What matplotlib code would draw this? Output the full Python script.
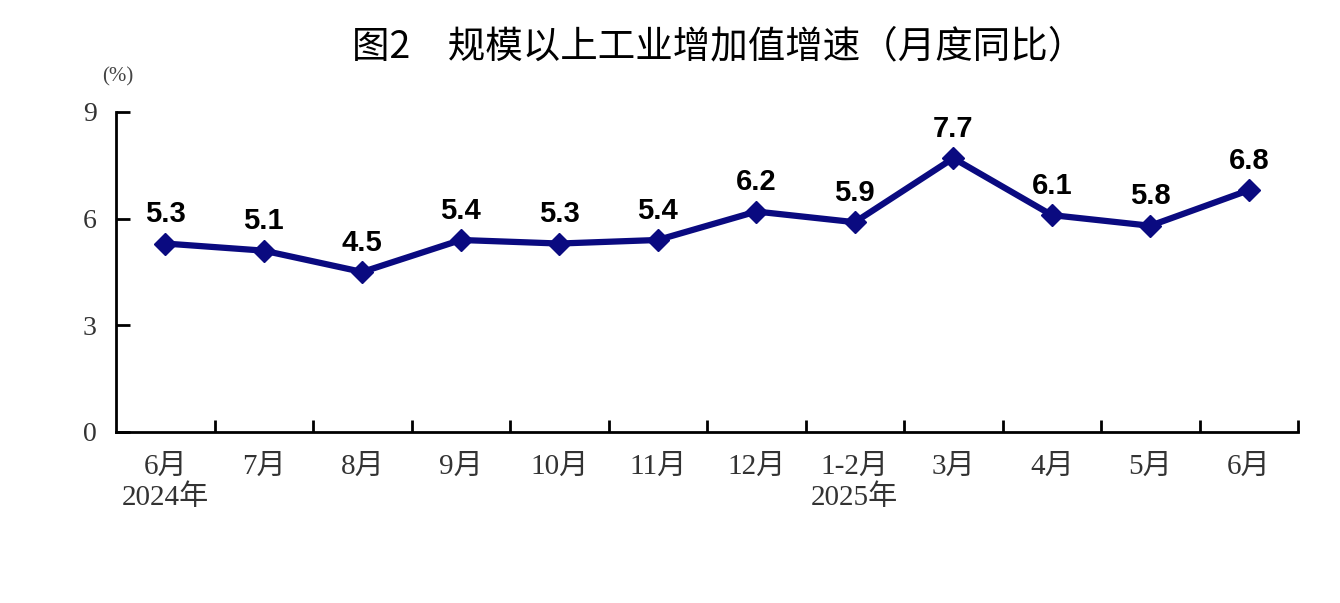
import matplotlib.pyplot as plt

months = ['6月\n2024年', '7月', '8月', '9月', '10月', '11月', '12月',
          '1-2月\n2025年', '3月', '4月', '5月', '6月']
growth = [5.3, 5.1, 4.5, 5.4, 5.3, 5.4, 6.2, 5.9, 7.7, 6.1, 5.8, 6.8]
yticks = [0, 3, 6, 9]

serif = ['Liberation Serif', 'Noto Sans CJK SC']
navy = '#0a0a80'

fig = plt.figure(figsize=(13.4, 6.03), dpi=100)
ax = fig.add_axes([0.0866, 0.2836, 0.8821, 0.5307])

x = list(range(len(growth)))
ax.plot(x, growth, color=navy, lw=4.5, marker='D', markersize=11,
        markerfacecolor=navy, markeredgecolor=navy)
for xi, v in zip(x, growth):
    ax.annotate('{:.1f}'.format(v), (xi, v), xytext=(0, 11),
                textcoords='offset points', ha='center', va='bottom',
                fontsize=21, fontweight='bold', family='Liberation Sans')

ax.set_xlim(-0.5, len(growth) - 0.5)
ax.set_ylim(0, 9)
ax.spines['top'].set_visible(False)
ax.spines['right'].set_visible(False)
for s in ('left', 'bottom'):
    ax.spines[s].set_linewidth(2)

ax.set_yticks(yticks)
ax.set_yticklabels([str(t) for t in yticks], family=serif, fontsize=20,
                   color='#333333')
ax.tick_params(axis='y', direction='in', length=10, width=2, pad=14)

# boundary ticks between categories
ax.set_xticks([i + 0.5 for i in range(len(growth))])
ax.set_xticklabels([])
ax.tick_params(axis='x', which='major', direction='in', length=9, width=2)
ax.set_xticks(x, minor=True)
ax.set_xticklabels(months, minor=True, family=serif, fontsize=21,
                   color='#333333', linespacing=1.2)
ax.tick_params(axis='x', which='minor', length=0, pad=16)

fig.text(0.088, 0.865, '(%)', family=serif, fontsize=15, color='#444444',
         ha='center')
fig.text(0.536, 0.922, '图2\u3000规模以上工业增加值增速（月度同比）',
         family=['Noto Sans CJK SC', 'DejaVu Sans'], fontsize=27,
         fontweight='medium', ha='center', va='center')

fig.savefig('out.png', dpi=100)
